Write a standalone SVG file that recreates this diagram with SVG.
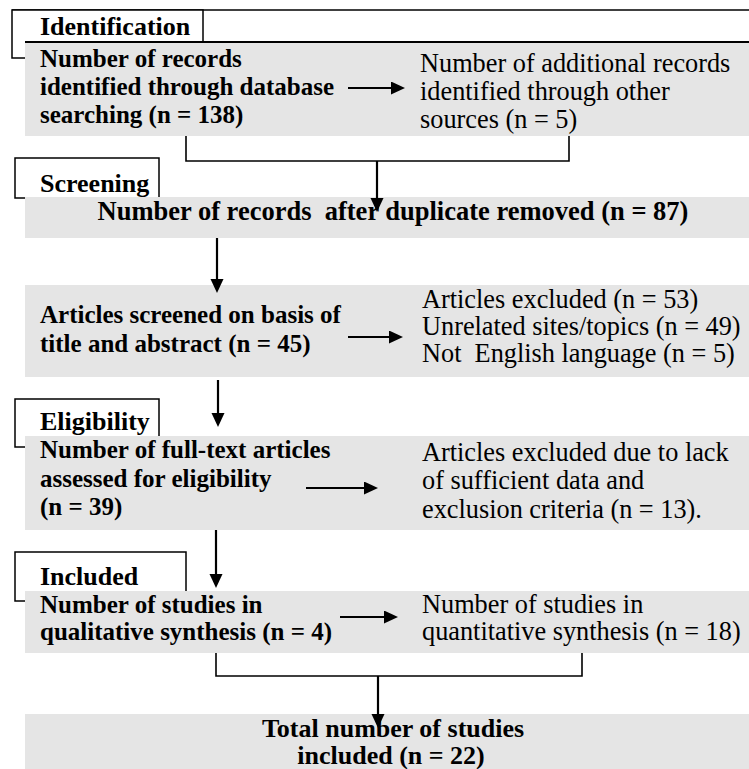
<svg xmlns="http://www.w3.org/2000/svg" width="749" height="769" viewBox="0 0 749 769" font-family="'Liberation Serif', 'Times New Roman', 'DejaVu Serif', serif">
<style>
  text { font-family: 'Liberation Serif', 'Times New Roman', 'DejaVu Serif', serif; fill: #000; white-space: pre; }
  .b { font-weight: bold; font-size: 25px; }
  .lab { font-weight: bold; font-size: 26px; }
  .c { font-weight: bold; font-size: 26.5px; text-anchor: middle; }
  .t { font-weight: bold; font-size: 26px; text-anchor: middle; }
  .r { font-size: 26.3px; }
  .band { fill: #e5e5e5; stroke: none; }
  .lbox { fill: #fff; stroke: #000; stroke-width: 1.5; }
  .con { fill: none; stroke: #000; stroke-width: 1.6; }
  .arr { fill: none; stroke: #000; stroke-width: 2.2; marker-end: url(#ah); }
</style>
<defs>
  <marker id="ah" markerUnits="userSpaceOnUse" markerWidth="15" markerHeight="14" refX="8" refY="6.5" orient="auto">
    <path d="M0,0 L14,6.5 L0,13 z" fill="#000"/>
  </marker>
</defs>
<rect x="0" y="0" width="749" height="769" fill="#fff"/>

<g id="identification">
  <line x1="12" y1="10" x2="749" y2="10" stroke="#000" stroke-width="1.6"/>
  <rect class="lbox" x="12" y="10" width="191" height="48"/>
  <text class="lab" x="40" y="35">Identification</text>
</g>
<g id="db-records">
  <rect class="band" x="25" y="42" width="724" height="94"/>
  <line x1="25" y1="42" x2="749" y2="42" stroke="#000" stroke-width="1.8"/>
  <text class="b" x="40" y="67">Number of records</text>
  <text class="b" x="40" y="94.5">identified through database</text>
  <text class="b" x="40" y="122.5">searching (n = 138)</text>
</g>
<g id="other-records">
  <text class="r" x="420" y="72">Number of additional records</text>
  <text class="r" x="420" y="100">identified through other</text>
  <text class="r" x="420" y="128">sources (n = 5)</text>
</g>

<g id="screening">
  <rect class="lbox" x="15" y="158" width="144" height="40"/>
  <text class="lab" x="40" y="192">Screening</text>
</g>
<g id="after-duplicates">
  <rect class="band" x="25" y="197" width="724" height="41"/>
  <text class="c" x="393" y="220">Number of records  after duplicate removed (n = 87)</text>
</g>
<g id="screened">
  <rect class="band" x="25" y="285" width="724" height="92"/>
  <text class="b" x="40" y="323">Articles screened on basis of</text>
  <text class="b" x="40" y="352">title and abstract (n = 45)</text>
</g>
<g id="excluded-1">
  <text class="r" x="422" y="308">Articles excluded (n = 53)</text>
  <text class="r" x="422" y="335">Unrelated sites/topics (n = 49)</text>
  <text class="r" x="422" y="362">Not  English language (n = 5)</text>
</g>

<g id="eligibility">
  <rect class="lbox" x="15" y="399" width="144" height="48"/>
  <text class="lab" x="40" y="430">Eligibility</text>
</g>
<g id="full-text">
  <rect class="band" x="25" y="436" width="724" height="94"/>
  <text class="b" x="40" y="458">Number of full-text articles</text>
  <text class="b" x="40" y="487">assessed for eligibility</text>
  <text class="b" x="40" y="515">(n = 39)</text>
</g>
<g id="excluded-2">
  <text class="r" x="422" y="461">Articles excluded due to lack</text>
  <text class="r" x="422" y="489">of sufficient data and</text>
  <text class="r" x="422" y="518">exclusion criteria (n = 13).</text>
</g>

<g id="included">
  <rect class="lbox" x="15" y="552" width="171" height="49"/>
  <text class="lab" x="40" y="585">Included</text>
</g>
<g id="qualitative">
  <rect class="band" x="25" y="591" width="724" height="62"/>
  <text class="b" x="40" y="613">Number of studies in</text>
  <text class="b" x="40" y="640">qualitative synthesis (n = 4)</text>
</g>
<g id="quantitative">
  <text class="r" x="422" y="613">Number of studies in</text>
  <text class="r" x="422" y="640">quantitative synthesis (n = 18)</text>
</g>
<g id="total">
  <rect class="band" x="25" y="714" width="724" height="55"/>
  <text class="t" x="393" y="737">Total number of studies</text>
  <text class="t" x="391" y="764">included (n = 22)</text>
</g>

<g id="connectors">
  <line class="arr" x1="348" y1="88" x2="399" y2="88"/>
  <polyline class="con" points="186,136 186,161 569,161 569,136"/>
  <line class="arr" x1="377" y1="161" x2="377" y2="206"/>
  <line class="arr" x1="217" y1="238" x2="217" y2="287"/>
  <line class="arr" x1="348" y1="337" x2="397" y2="337"/>
  <line class="arr" x1="218" y1="380" x2="218" y2="421"/>
  <line class="arr" x1="306" y1="488" x2="372" y2="488"/>
  <line class="arr" x1="216" y1="530" x2="216" y2="582"/>
  <line class="arr" x1="340" y1="617" x2="392" y2="617"/>
  <polyline class="con" points="216,653 216,676 582,676 582,653"/>
  <line class="arr" x1="378" y1="676" x2="378" y2="722"/>
</g>
</svg>
